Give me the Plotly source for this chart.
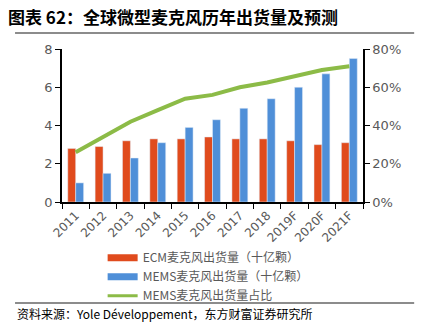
import plotly.graph_objects as go

years = ["2011", "2012", "2013", "2014", "2015", "2016", "2017", "2018", "2019F", "2020F", "2021F"]
ecm = [2.8, 2.9, 3.2, 3.3, 3.3, 3.4, 3.3, 3.3, 3.2, 3.0, 3.1]
mems = [1.0, 1.5, 2.3, 3.1, 3.9, 4.3, 4.9, 5.4, 6.0, 6.7, 7.5]
share = [0.26, 0.34, 0.42, 0.48, 0.54, 0.56, 0.60, 0.625, 0.655, 0.69, 0.71]

c_ecm = "#E04B1D"
c_mems = "#4F8FD8"
c_line = "#8CBB47"
gray = "#595959"
font_cjk = "Noto Sans CJK SC"

n_ecm = "ECM麦克风出货量（十亿颗）"
n_mems = "MEMS麦克风出货量（十亿颗）"
n_share = "MEMS麦克风出货量占比"

fig = go.Figure()
fig.add_trace(go.Bar(x=years, y=ecm, name=n_ecm, marker_color=c_ecm, showlegend=False))
fig.add_trace(go.Bar(x=years, y=mems, name=n_mems, marker_color=c_mems, showlegend=False))
fig.add_trace(go.Scatter(x=years, y=share, name=n_share, mode="lines",
                         line=dict(color=c_line, width=4), yaxis="y2", showlegend=False))
# legend entries
for nm, col, w in [(n_ecm, c_ecm, 7), (n_mems, c_mems, 7), (n_share, c_line, 3)]:
    fig.add_trace(go.Scatter(x=[None], y=[None], name=nm, mode="lines",
                             line=dict(color=col, width=w), showlegend=True))

fig.update_layout(
    width=426, height=330,
    margin=dict(l=62, r=63, t=49, b=128),
    paper_bgcolor="white", plot_bgcolor="white",
    barmode="group", bargap=0.42, bargroupgap=0,
    font=dict(family=font_cjk, color=gray, size=12),
    showlegend=True,
    legend=dict(x=0.135, y=-0.27, xanchor="left", yanchor="top",
                font=dict(size=12, color=gray, family=font_cjk),
                itemwidth=30, tracegroupgap=0, bgcolor="rgba(0,0,0,0)"),
    xaxis=dict(showline=True, linecolor="black", linewidth=1.5, ticks="outside",
               tickson="boundaries", ticklen=5, tickcolor="black", tickangle=-45,
               tickfont=dict(size=12, color=gray, family="DejaVu Sans"), showgrid=False),
    yaxis=dict(range=[0, 8], dtick=2, showline=True, linecolor="black", linewidth=1.5,
               ticks="outside", ticklen=5, tickcolor="black", showgrid=False, zeroline=False,
               tickfont=dict(size=13, color=gray, family="DejaVu Sans")),
    yaxis2=dict(range=[0, 0.8], dtick=0.2, tickformat=".0%", overlaying="y", side="right",
                showline=True, linecolor="black", linewidth=1.5, ticks="outside", ticklen=5,
                tickcolor="black", showgrid=False, zeroline=False,
                tickfont=dict(size=13, color=gray, family="DejaVu Sans")),
)

# title, rules, source
fig.add_annotation(text="<b>图表 62：全球微型麦克风历年出货量及预测</b>", xref="paper", yref="paper",
                   x=-0.185, y=1.21, xanchor="left", yanchor="middle", showarrow=False,
                   font=dict(size=17, color="black", family=font_cjk))
fig.add_shape(type="line", xref="paper", yref="paper", x0=-0.156, x1=1.17, y0=1.105, y1=1.105,
              line=dict(color="#8c8c8c", width=2))
fig.add_shape(type="line", xref="paper", yref="paper", x0=-0.156, x1=1.17, y0=-0.66, y1=-0.66,
              line=dict(color="#8c8c8c", width=2))
fig.add_annotation(text="资料来源：Yole Développement，东方财富证券研究所", xref="paper", yref="paper",
                   x=-0.156, y=-0.73, xanchor="left", yanchor="middle", showarrow=False,
                   font=dict(size=12, color="black", family=font_cjk))

fig.write_html("out.html")
